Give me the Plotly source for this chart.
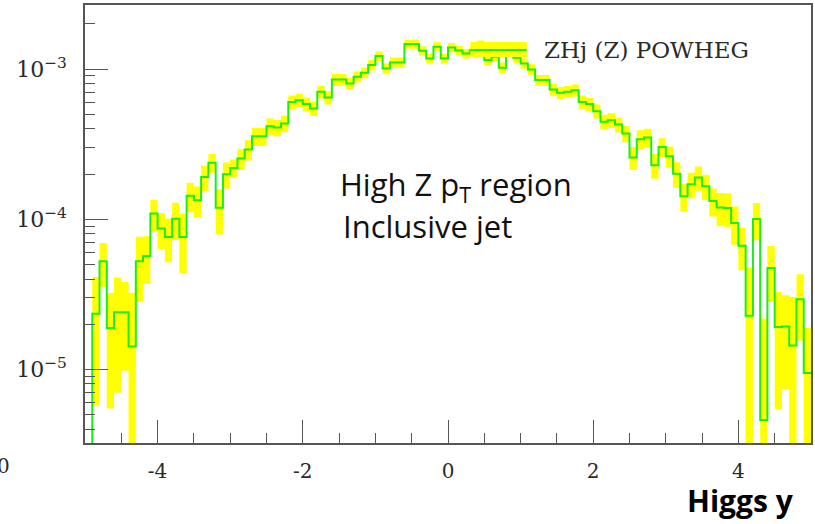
import numpy as np
import plotly.graph_objects as go

# ---- data: Higgs rapidity histogram, 100 bins from -5 to 5 ----
BIN_LO, BIN_HI, N_BINS = -5.0, 5.0, 100

values = [
    0.0, 2.35e-5, 5.25e-5, 1.89e-5, 2.40e-5, 2.40e-5, 1.42e-5, 5.25e-5, 5.70e-5, 1.091e-4,
    8.67e-5, 7.62e-5, 1.009e-4, 7.62e-5, 1.432e-4, 1.34e-4, 1.914e-4, 2.377e-4, 1.191e-4, 1.995e-4,
    2.198e-4, 2.535e-4, 2.911e-4, 3.57e-4, 3.57e-4, 4.17e-4, 4.08e-4, 4.35e-4, 6.05e-4, 6.21e-4,
    5.85e-4, 5.47e-4, 7.06e-4, 6.47e-4, 8.53e-4, 8.53e-4, 8.02e-4, 8.89e-4, 9.46e-4, 1.064e-3,
    1.222e-3, 1.009e-3, 1.107e-3, 1.107e-3, 1.469e-3, 1.469e-3, 1.324e-3, 1.178e-3, 1.409e-3, 1.178e-3,
    1.393e-3, 1.33e-3, 1.27e-3, 1.33e-3, 1.45e-3, 1.148e-3, 1.21e-3, 1.02e-3, 1.33e-3, 1.19e-3,
    1.092e-3, 9.95e-4, 8.45e-4, 8.45e-4, 7.31e-4, 6.95e-4, 7.06e-4, 7.24e-4, 6.05e-4, 5.85e-4,
    5.25e-4, 4.46e-4, 4.57e-4, 4.27e-4, 3.72e-4, 2.58e-4, 3.41e-4, 3.50e-4, 2.29e-4, 3.03e-4,
    2.63e-4, 2.01e-4, 1.423e-4, 1.71e-4, 1.897e-4, 1.66e-4, 1.324e-4, 1.197e-4, 1.19e-4, 9.46e-5,
    6.67e-5, 2.28e-5, 1.005e-4, 4.61e-6, 4.74e-5, 1.914e-5, 1.93e-5, 1.445e-5, 2.93e-5, 9.46e-6,
]

errors = [
    0.0, 1.77e-5, 1.7e-5, 1.34e-5, 1.7e-5, 1.42e-5, 1.82e-5, 2.4e-5, 2.0e-5, 2.6e-5,
    2.35e-5, 2.45e-5, 2.8e-5, 3.25e-5, 3.2e-5, 3.1e-5, 3.7e-5, 3.4e-5, 4.0e-5, 3.9e-5,
    3.0e-5, 3.9e-5, 4.5e-5, 5.0e-5, 5.0e-5, 5.2e-5, 5.1e-5, 5.4e-5, 6.3e-5, 6.4e-5,
    6.1e-5, 5.9e-5, 6.8e-5, 6.5e-5, 7.5e-5, 7.5e-5, 7.3e-5, 7.6e-5, 7.8e-5, 8.5e-5,
    9.0e-5, 8.3e-5, 8.6e-5, 8.6e-5, 1.0e-4, 1.0e-4, 9.5e-5, 9.0e-5, 9.8e-5, 9.0e-5,
    9.7e-5, 9.5e-5, 9.3e-5, 9.5e-5, 1.0e-4, 8.8e-5, 9.0e-5, 8.5e-5, 9.5e-5, 9.0e-5,
    8.6e-5, 8.2e-5, 7.0e-5, 7.0e-5, 6.6e-5, 6.5e-5, 6.5e-5, 6.6e-5, 6.0e-5, 5.9e-5,
    5.6e-5, 5.0e-5, 5.1e-5, 4.9e-5, 4.6e-5, 4.5e-5, 5.0e-5, 5.0e-5, 4.3e-5, 4.4e-5,
    4.2e-5, 3.9e-5, 3.0e-5, 3.3e-5, 3.5e-5, 3.2e-5, 2.8e-5, 3.0e-5, 3.0e-5, 2.7e-5,
    2.1e-5, 2.5e-5, 2.8e-5, 1.72e-5, 1.9e-5, 1.37e-5, 1.19e-5, 1.59e-5, 1.37e-5, 9.5e-6,
]

x_tick_vals = [-4, -2, 0, 2, 4]
x_tick_text = ["-4", "-2", "0", "2", "4"]
x_minor_vals = [-4.5, -3.5, -3, -2.5, -1.5, -1, -0.5, 0.5, 1, 1.5, 2.5, 3, 3.5, 4.5]
y_tick_vals = [1e-5, 1e-4, 1e-3]
y_tick_text = ["10<sup>\u22125</sup>", "10<sup>\u22124</sup>", "10<sup>\u22123</sup>"]
y_minor_vals = [m * 10.0 ** e for e in (-6, -5, -4, -3) for m in range(2, 10)]

legend_label = "ZHj (Z) POWHEG"
label_region = "High Z p<sub>T</sub> region"
label_jet = "Inclusive jet"
label_x = "Higgs y"

# ---- build step outlines ----
FLOOR = 1e-7  # empty / negative parts fall below the visible axis
edges = np.linspace(BIN_LO, BIN_HI, N_BINS + 1)
v = np.array(values)
e = np.array(errors)
lo = np.maximum(v - e, FLOOR)
hi = np.maximum(v + e, FLOOR)
vc = np.maximum(v, FLOOR)

def step(arr):
    return list(arr) + [arr[-1]]

YELLOW = "#ffff00"
GREEN = "#19ee19"

fig = go.Figure()
fig.add_trace(go.Scatter(x=edges, y=step(lo), mode="lines", line=dict(shape="hv", width=0),
                         hoverinfo="skip", showlegend=False))
fig.add_trace(go.Scatter(x=edges, y=step(hi), mode="lines", line=dict(shape="hv", width=0),
                         fill="tonexty", fillcolor=YELLOW, hoverinfo="skip", showlegend=False))
fig.add_trace(go.Scatter(x=edges, y=step(vc), mode="lines",
                         line=dict(shape="hv", width=2, color=GREEN), showlegend=False))

AX = "#555555"
SERIF = "DejaVu Serif"
TXT = "#2a2a2a"

fig.update_xaxes(range=[BIN_LO, BIN_HI], showline=True, mirror=True, linecolor=AX, linewidth=1.5,
                 showgrid=False, zeroline=False, ticks="inside", ticklen=23, tickcolor=AX, tickwidth=1,
                 tickvals=x_tick_vals, ticktext=x_tick_text,
                 tickfont=dict(family=SERIF, size=20, color=TXT), ticklabelstandoff=9,
                 minor=dict(tickvals=x_minor_vals, ticks="inside", ticklen=10, tickcolor=AX, tickwidth=1,
                            showgrid=False))
fig.update_yaxes(type="log", range=[-5.49, -2.573], showline=True, mirror=True, linecolor=AX, linewidth=1.5,
                 showgrid=False, zeroline=False, ticks="inside", ticklen=23, tickcolor=AX, tickwidth=1,
                 tickvals=y_tick_vals, ticktext=y_tick_text,
                 tickfont=dict(family=SERIF, size=22, color=TXT), ticklabelstandoff=12,
                 minor=dict(tickvals=y_minor_vals, ticks="inside", ticklen=10, tickcolor=AX, tickwidth=1,
                            showgrid=False))

# legend key (drawn in paper coordinates)
fig.add_shape(type="rect", xref="paper", yref="paper", x0=0.531, x1=0.6085, y0=0.8813, y1=0.9155,
              fillcolor=YELLOW, line=dict(width=0), layer="above")
fig.add_shape(type="line", xref="paper", yref="paper", x0=0.531, x1=0.6085, y0=0.8973, y1=0.8973,
              line=dict(color=GREEN, width=2), layer="above")

fig.add_annotation(text=legend_label, xref="paper", yref="paper", x=0.630, y=0.8973, xanchor="left",
                   yanchor="middle", showarrow=False, font=dict(family=SERIF, size=23, color=TXT))
fig.add_annotation(text=label_region, xref="paper", yref="paper", x=0.3490, y=0.5860, xanchor="left",
                   yanchor="middle", showarrow=False, font=dict(family="Open Sans", size=31, color="#111111"))
fig.add_annotation(text=label_jet, xref="paper", yref="paper", x=0.3530, y=0.4950, xanchor="left",
                   yanchor="middle", showarrow=False, font=dict(family="Open Sans", size=31, color="#111111"))
fig.add_annotation(text="<b>" + label_x + "</b>", xref="paper", yref="paper", x=0.8270, y=-0.131,
                   xanchor="left", yanchor="middle", showarrow=False,
                   font=dict(family="Open Sans", size=30, color="#000000"))
fig.add_annotation(text="0", xref="paper", yref="paper", x=-0.1126, y=-0.0525, xanchor="center",
                   yanchor="middle", showarrow=False, font=dict(family=SERIF, size=20, color=TXT))

fig.update_layout(width=815, height=524, margin=dict(l=85, r=2, t=5, b=81),
                  plot_bgcolor="white", paper_bgcolor="white", showlegend=False)

fig.write_html("out.html", config={"displayModeBar": False},
               post_script="document.body.style.margin='0px';")
